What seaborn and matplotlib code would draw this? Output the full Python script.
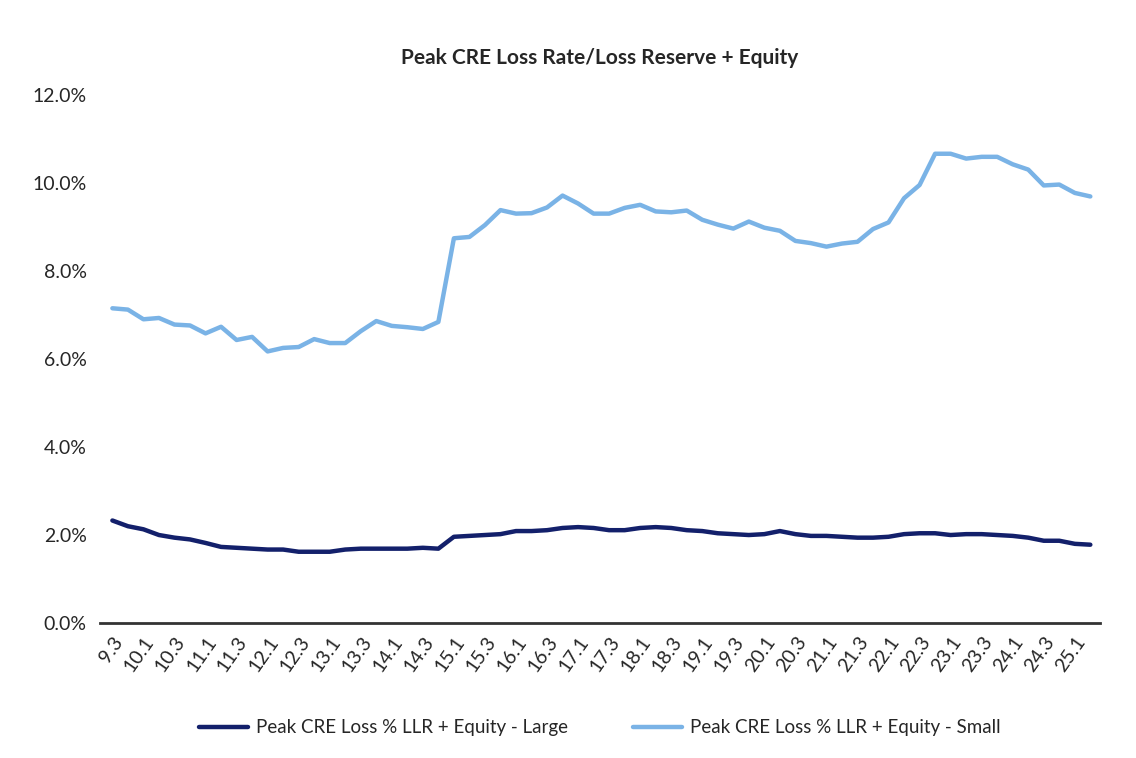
import matplotlib
matplotlib.use("Agg")
import matplotlib.pyplot as plt
import matplotlib.ticker as mtick
import seaborn as sns
import pandas as pd

quarters = ["9.3", "9.4"] + [f"{y}.{q}" for y in range(10, 25) for q in range(1, 5)] + ["25.1", "25.2"]

large = [2.33, 2.20, 2.13, 2.00, 1.94, 1.90, 1.82, 1.73, 1.71, 1.69,
         1.67, 1.67, 1.62, 1.62, 1.62, 1.67, 1.69, 1.69, 1.69, 1.69,
         1.71, 1.69, 1.96, 1.98, 2.00, 2.02, 2.09, 2.09, 2.11, 2.16,
         2.18, 2.16, 2.11, 2.11, 2.16, 2.18, 2.16, 2.11, 2.09, 2.04,
         2.02, 2.00, 2.02, 2.09, 2.02, 1.98, 1.98, 1.96, 1.94, 1.94,
         1.96, 2.02, 2.04, 2.04, 2.00, 2.02, 2.02, 2.00, 1.98, 1.94,
         1.87, 1.87, 1.80, 1.78]

small = [7.15, 7.12, 6.90, 6.93, 6.78, 6.76, 6.58, 6.73, 6.43, 6.50,
         6.17, 6.25, 6.27, 6.45, 6.36, 6.36, 6.63, 6.86, 6.75, 6.72,
         6.68, 6.84, 8.74, 8.77, 9.04, 9.38, 9.30, 9.31, 9.44, 9.71,
         9.53, 9.30, 9.30, 9.43, 9.50, 9.35, 9.33, 9.37, 9.16, 9.05,
         8.96, 9.12, 8.98, 8.91, 8.68, 8.63, 8.55, 8.62, 8.66, 8.95,
         9.10, 9.65, 9.95, 10.66, 10.66, 10.55, 10.59, 10.59, 10.42, 10.30,
         9.94, 9.96, 9.77, 9.69]

labels = ["Peak CRE Loss % LLR + Equity - Large", "Peak CRE Loss % LLR + Equity - Small"]

df = pd.DataFrame({"quarter": quarters * 2,
                   "value": large + small,
                   "series": [labels[0]] * len(large) + [labels[1]] * len(small)})
df["x"] = list(range(len(quarters))) * 2

sns.set_style("white")
plt.rcParams["font.family"] = ["Lato", "DejaVu Sans"]

fig, ax = plt.subplots(figsize=(11.36, 7.58), dpi=100)
fig.subplots_adjust(left=0.088, right=0.968, top=0.875, bottom=0.178)

sns.lineplot(data=df, x="x", y="value", hue="series",
             palette=["#13206b", "#7ab3e6"], linewidth=3.2, ax=ax)

ax.set_ylim(0, 12)
ax.set_yticks(range(0, 13, 2))
ax.yaxis.set_major_formatter(mtick.FuncFormatter(lambda v, p: f"{v:.1f}%"))
ax.set_xlim(-0.8, len(quarters) - 0.4)
ax.set_xticks(range(0, len(quarters), 2))
ax.set_xticklabels(quarters[::2], rotation=55, ha="right", rotation_mode="anchor", fontsize=14)
ax.tick_params(axis="y", labelsize=14, left=False, pad=6)
ax.tick_params(axis="x", bottom=False, pad=4)
ax.set_xlabel("")
ax.set_ylabel("")
for s in ["top", "right", "left"]:
    ax.spines[s].set_visible(False)
ax.spines["bottom"].set_color("#333333")
ax.spines["bottom"].set_linewidth(2)

ax.set_title("Peak CRE Loss Rate/Loss Reserve + Equity", fontsize=15, fontweight="bold", pad=22)
ax.legend(loc="upper center", bbox_to_anchor=(0.5, -0.15), ncol=2, frameon=False,
          fontsize=13.5, handlelength=2.6, handletextpad=0.4, columnspacing=3.5)

fig.savefig("out.png")
